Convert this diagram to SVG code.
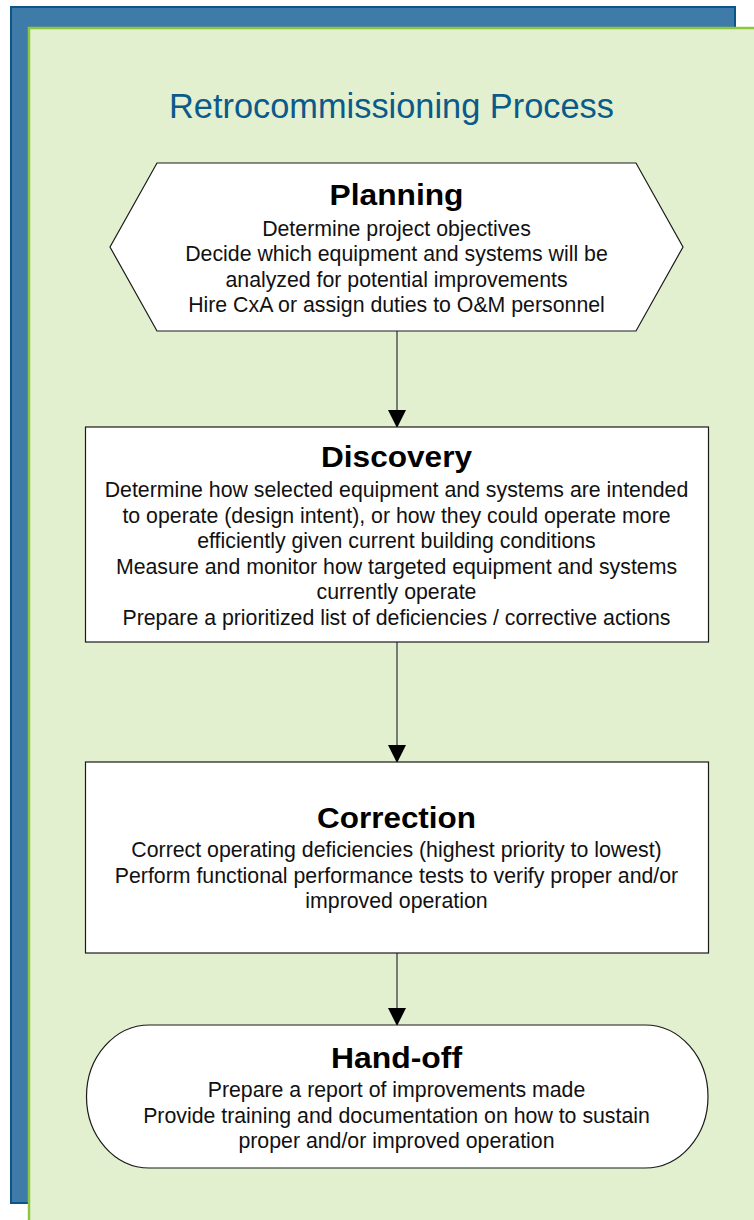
<svg xmlns="http://www.w3.org/2000/svg" width="754" height="1220" viewBox="0 0 754 1220">
<style>
.shape{fill:#ffffff;stroke:#1a1a1a;stroke-width:1.2}
.ttl{font-family:"Liberation Sans",Arial,sans-serif;font-weight:bold;font-size:29px;fill:#000;text-anchor:middle}
.body{font-family:"Liberation Sans",Arial,sans-serif;font-size:21.3px;fill:#111;text-anchor:middle}
.conn{stroke:#555555;stroke-width:1.5;fill:none}
</style>
<defs>
<marker id="ah" markerUnits="userSpaceOnUse" markerWidth="18" markerHeight="18" refX="17" refY="9" orient="auto">
<path d="M0,0 L18,9 L0,18 Z" fill="#000"/>
</marker>
</defs>
<g id="background">
<rect x="11" y="7" width="724" height="1196" fill="#3f7ba8" stroke="#0a5689" stroke-width="2"/>
<rect x="29" y="28" width="740" height="1210" fill="#e2f0cf" stroke="#8dc63f" stroke-width="2.5"/>
<text x="391.5" y="118" font-family="Liberation Sans, Arial, sans-serif" font-size="35" fill="#0b5a8a" text-anchor="middle" textLength="445" lengthAdjust="spacingAndGlyphs">Retrocommissioning Process</text>
</g>
<g id="connectors">
<line class="conn" x1="397" y1="331" x2="397" y2="427" marker-end="url(#ah)"/>
<line class="conn" x1="397" y1="642" x2="397" y2="762" marker-end="url(#ah)"/>
<line class="conn" x1="397" y1="953" x2="397" y2="1025" marker-end="url(#ah)"/>
</g>
<g id="planning">
<polygon class="shape" points="157,163 636,163 683,247 636,331 157,331 110,247"/>
<text class="ttl" x="396.5" y="205" textLength="134" lengthAdjust="spacingAndGlyphs">Planning</text>
<text class="body" x="396.5" y="236">Determine project objectives</text>
<text class="body" x="396.5" y="261">Decide which equipment and systems will be</text>
<text class="body" x="396.5" y="286.5">analyzed for potential improvements</text>
<text class="body" x="396.5" y="312">Hire CxA or assign duties to O&amp;M personnel</text>
</g>
<g id="discovery">
<rect class="shape" x="85.5" y="427" width="623" height="215"/>
<text class="ttl" x="396.5" y="467" textLength="151" lengthAdjust="spacingAndGlyphs">Discovery</text>
<text class="body" x="396.5" y="497">Determine how selected equipment and systems are intended</text>
<text class="body" x="396.5" y="522.5">to operate (design intent), or how they could operate more</text>
<text class="body" x="396.5" y="548">efficiently given current building conditions</text>
<text class="body" x="396.5" y="573.5">Measure and monitor how targeted equipment and systems</text>
<text class="body" x="396.5" y="599">currently operate</text>
<text class="body" x="396.5" y="624.5">Prepare a prioritized list of deficiencies / corrective actions</text>
</g>
<g id="correction">
<rect class="shape" x="85.5" y="762" width="623" height="191"/>
<text class="ttl" x="396.5" y="828" textLength="159" lengthAdjust="spacingAndGlyphs">Correction</text>
<text class="body" x="396.5" y="857">Correct operating deficiencies (highest priority to lowest)</text>
<text class="body" x="396.5" y="882.5">Perform functional performance tests to verify proper and/or</text>
<text class="body" x="396.5" y="908">improved operation</text>
</g>
<g id="handoff">
<rect class="shape" x="86.5" y="1025" width="621.5" height="143" rx="63" ry="71.5"/>
<text class="ttl" x="396.5" y="1068" textLength="131" lengthAdjust="spacingAndGlyphs">Hand-off</text>
<text class="body" x="396.5" y="1097">Prepare a report of improvements made</text>
<text class="body" x="396.5" y="1122.5">Provide training and documentation on how to sustain</text>
<text class="body" x="396.5" y="1148">proper and/or improved operation</text>
</g>
</svg>
